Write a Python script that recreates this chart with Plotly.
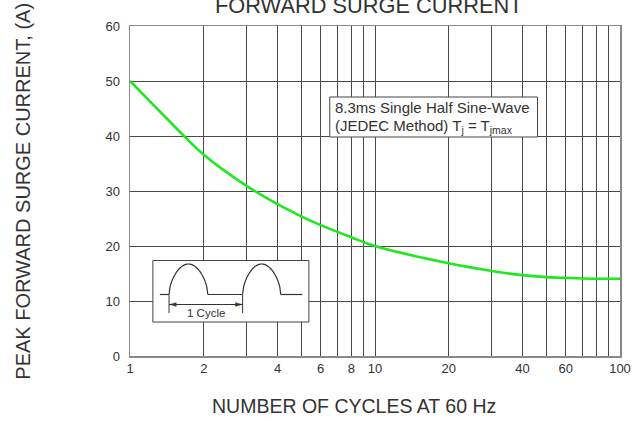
import numpy as np
import plotly.graph_objects as go

# ---- data ----
cycles = [1, 1.5, 2, 3, 4, 5, 6, 8, 10, 20, 30, 40, 50, 60, 70, 100]
surge_current = [50, 42.0, 36.6, 30.9, 27.6, 25.4, 23.8, 21.6, 20.0, 16.85,
                 15.45, 14.7, 14.35, 14.2, 14.1, 14.05]
x_label_vals = [1, 2, 4, 6, 8, 10, 20, 40, 60, 100]
x_label_text = ['1', '2', '4', '6', '8', '10', '20', '40', '60', '100']
x_minor_grid = [3, 5, 7, 9, 30, 50, 70, 80, 90]
y_ticks = [0, 10, 20, 30, 40, 50, 60]

W, H = 643, 421
L, R, T, B = 130, 20, 26, 65
pw, ph = W - L - R, H - T - B


def px(x):
    return (x - L) / pw


def py(y):
    return (H - B - y) / ph


FONT = "Arial, Liberation Sans, sans-serif"
TXT = "#333333"

fig = go.Figure()
fig.add_trace(go.Scatter(x=cycles, y=surge_current, mode="lines",
                         line=dict(color="#1ee81e", width=2.6, shape="spline", smoothing=1.0),
                         hoverinfo="skip", showlegend=False))

shapes = []
# JEDEC note box
shapes.append(dict(type="rect", xref="paper", yref="paper",
                   x0=px(331), x1=px(540), y0=py(137), y1=py(97),
                   fillcolor="white", line=dict(color="#444", width=1), layer="above"))
# inset box
shapes.append(dict(type="rect", xref="paper", yref="paper",
                   x0=px(153), x1=px(310), y0=py(322), y1=py(260.5),
                   fillcolor="white", line=dict(color="#444", width=1), layer="above"))

yb, peak = 294.5, 264.0
humps = [(169.3, 208.3), (243.3, 281.7)]
segs = [(160, 169.3), (208.3, 243.3), (281.7, 303.3)]
line_style = dict(color="#333", width=1.2)
for a, b in segs:
    shapes.append(dict(type="line", xref="paper", yref="paper",
                       x0=px(a), x1=px(b), y0=py(yb), y1=py(yb),
                       line=line_style, layer="above"))
for a, b in humps:
    t = np.linspace(0, 1, 40)
    xs = a + (b - a) * t
    ys = yb - (yb - peak) * np.sin(np.pi * t) ** 0.55
    path = "M " + " L ".join(f"{px(xv):.5f},{py(yv):.5f}" for xv, yv in zip(xs, ys))
    shapes.append(dict(type="path", xref="paper", yref="paper", path=path,
                       line=line_style, layer="above"))

# dimension arrow
ay = 304.5
shapes.append(dict(type="line", xref="paper", yref="paper",
                   x0=px(169.3), x1=px(243.3), y0=py(ay), y1=py(ay),
                   line=dict(color="#333", width=1), layer="above"))
for xv in (169.3, 243.3):
    shapes.append(dict(type="line", xref="paper", yref="paper",
                       x0=px(xv), x1=px(xv), y0=py(295), y1=py(313),
                       line=dict(color="#333", width=1), layer="above"))
for tip, back in ((169.8, 176.5), (242.8, 236.1)):
    path = (f"M {px(tip):.5f},{py(ay):.5f} L {px(back):.5f},{py(ay-1.8):.5f} "
            f"L {px(back):.5f},{py(ay+1.8):.5f} Z")
    shapes.append(dict(type="path", xref="paper", yref="paper", path=path,
                       fillcolor="#333", line=dict(color="#333", width=0.5), layer="above"))

annotations = [
    dict(text="8.3ms Single Half Sine-Wave", x=px(334.5), y=py(107), xref="paper", yref="paper",
         xanchor="left", yanchor="middle", showarrow=False,
         font=dict(size=15, color=TXT, family=FONT)),
    dict(text="(JEDEC Method) T<sub><span style='color:#333333'>j</span></sub> = "
              "T<sub><span style='color:#333333'>jmax</span></sub>",
         x=px(334.5), y=py(127),
         xref="paper", yref="paper", xanchor="left", yanchor="middle", showarrow=False,
         font=dict(size=15, color=TXT, family=FONT)),
    dict(text="1 Cycle", x=px(206.7), y=py(312.5), xref="paper", yref="paper",
         xanchor="center", yanchor="middle", showarrow=False,
         font=dict(size=11.5, color=TXT, family=FONT)),
    dict(text="FORWARD SURGE CURRENT", x=px(370), y=py(5.5), xref="paper", yref="paper",
         xanchor="center", yanchor="middle", showarrow=False,
         font=dict(size=21.8, color=TXT, family=FONT)),
    dict(text="NUMBER OF CYCLES AT 60 Hz", x=px(355.5), y=py(406), xref="paper", yref="paper",
         xanchor="center", yanchor="middle", showarrow=False,
         font=dict(size=19.5, color=TXT, family=FONT)),
    dict(text="PEAK FORWARD SURGE CURRENT, (A)", x=px(22.5), y=py(191.5), xref="paper",
         yref="paper", xanchor="center", yanchor="middle", textangle=-90, showarrow=False,
         font=dict(size=20, color=TXT, family=FONT)),
]

fig.update_layout(
    width=W, height=H, margin=dict(l=L, r=R, t=T, b=B, pad=0),
    paper_bgcolor="white", plot_bgcolor="white",
    font=dict(family=FONT, color=TXT),
    shapes=shapes, annotations=annotations, showlegend=False,
)
grid_col = "#4a4a4a"
fig.update_xaxes(type="log", range=[0, 2], tickvals=x_label_vals, ticktext=x_label_text,
                 showgrid=True, gridcolor=grid_col, gridwidth=1,
                 minor=dict(tickvals=x_minor_grid, showgrid=True, gridcolor=grid_col,
                            gridwidth=1, ticks=""),
                 showline=True, linecolor="#8a8a8a", linewidth=1.5, mirror=True,
                 ticks="", tickfont=dict(size=13, color=TXT), zeroline=False)
fig.update_yaxes(range=[0, 60], tickvals=y_ticks,
                 showgrid=True, gridcolor=grid_col, gridwidth=1,
                 showline=True, linecolor="#8a8a8a", linewidth=1.5, mirror=True,
                 ticks="", ticklabelstandoff=6, tickfont=dict(size=13, color=TXT),
                 zeroline=False)

fig.write_html("out.html", config={"displayModeBar": False, "staticPlot": True},
               post_script="document.body.style.margin='0';"
                           "document.documentElement.style.overflow='hidden';")
